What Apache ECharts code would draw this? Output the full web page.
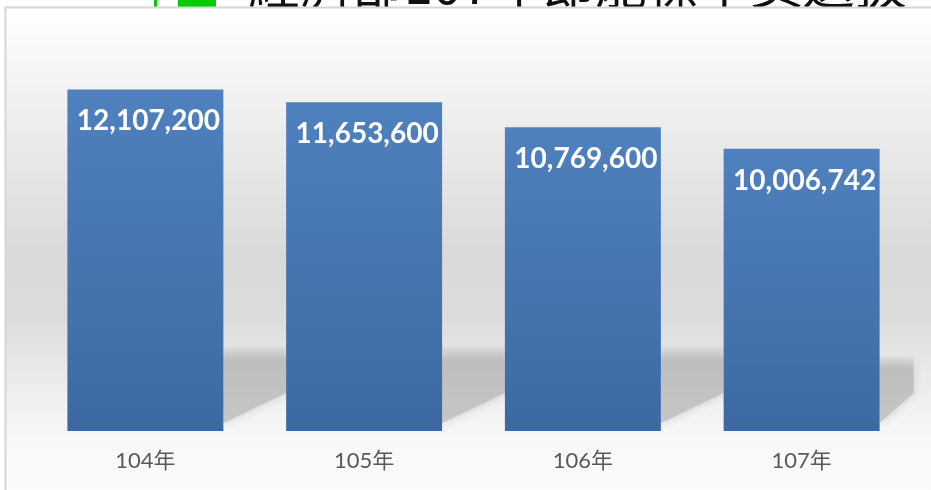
<!DOCTYPE html>
<html>
<head>
<meta charset="utf-8">
<style>
  html, body { margin: 0; padding: 0; background: #ffffff; }
  #main { width: 931px; height: 490px; }
</style>
<script src="https://cdn.jsdelivr.net/npm/echarts@6/dist/echarts.min.js"></script>
</head>
<body>
<div id="main"></div>
<script>
// data
var years = ['104年', '105年', '106年', '107年'];
var amounts = [12107200, 11653600, 10769600, 10006742];
var titleText = '經濟部107年節能標竿獎選拔';

function commas(n) {
    return String(n).replace(/\B(?=(\d{3})+(?!\d))/g, ',');
}

function vgrad(stops) {
    return { type: 'linear', x: 0, y: 0, x2: 0, y2: 1, colorStops: stops };
}

var mychart = echarts.init(document.getElementById('main'));

var option = {
    animation: false,
    grid: {
        left: 36,
        right: 20,
        top: 36,
        bottom: 59
    },
    xAxis: {
        type: 'category',
        data: years,
        axisLine: { show: false },
        axisTick: { show: false },
        axisLabel: {
            margin: 19,
            color: '#595959',
            fontSize: 22,
            fontFamily: 'Lato, "Noto Sans CJK TC", sans-serif'
        }
    },
    yAxis: {
        type: 'value',
        min: 0,
        max: 14000000,
        show: false,
        splitLine: { show: false }
    },
    series: [{
        type: 'bar',
        data: amounts,
        barWidth: '71.3%',
        z: 3,
        itemStyle: {
            color: vgrad([
                { offset: 0, color: '#4f81be' },
                { offset: 1, color: '#3c69a2' }
            ])
        },
        label: {
            show: true,
            position: 'insideTop',
            distance: 18,
            offset: [3, 0],
            color: '#ffffff',
            fontSize: 28,
            fontWeight: 'bold',
            fontFamily: 'Lato, "Open Sans", sans-serif',
            formatter: function (p) { return commas(p.value); }
        }
    }]
};
mychart.setOption(option);

// slide decoration + chart box + floor shadows (positions from the axes)
var band = mychart.convertToPixel({ xAxisIndex: 0 }, years[1]) - mychart.convertToPixel({ xAxisIndex: 0 }, years[0]);
var bw = band * 0.713;
var y0 = mychart.convertToPixel({ yAxisIndex: 0 }, 0);
var els = [
    {
        type: 'text', x: 248, y: -42, z: -3,
        style: { text: titleText, fill: '#111111', fontSize: 52, fontFamily: '"Noto Sans CJK TC", serif' }
    },
    { type: 'rect', shape: { x: 154, y: 0, width: 3, height: 8 }, z: -3, style: { fill: '#00cc00' } },
    { type: 'rect', shape: { x: 178, y: 0, width: 38, height: 7 }, z: -3, style: { fill: '#00cc00' } },
    {
        type: 'rect', z: -2,
        shape: { x: 5.5, y: 7.5, width: 940, height: 500 },
        style: {
            fill: vgrad([
                { offset: 0, color: '#ffffff' },
                { offset: 0.2, color: '#f0f0f0' },
                { offset: 0.5, color: '#d9d9d9' },
                { offset: 0.62, color: '#dcdcdc' },
                { offset: 0.8, color: '#f2f2f2' },
                { offset: 0.88, color: '#f9f9f9' },
                { offset: 1, color: '#fbfbfb' }
            ]),
            stroke: '#d6d6d6',
            lineWidth: 2
        }
    }
];
for (var i = 0; i < years.length; i++) {
    var cx = mychart.convertToPixel({ xAxisIndex: 0 }, years[i]);
    var gapL = cx + bw / 2;
    var gapR = (i < years.length - 1) ? mychart.convertToPixel({ xAxisIndex: 0 }, years[i + 1]) - bw / 2 : gapL + 34;
    var gapTop = (i < years.length - 1) ? y0 - 86 : y0 - 76;
    els.push({
        type: 'polygon', z: -1,
        shape: { points: [[gapL, gapTop], [gapR, gapTop], [gapR, y0 - 38], [gapL, y0 - 8]] },
        style: {
            fill: vgrad([
                { offset: 0, color: 'rgba(190,190,190,0)' },
                { offset: 0.22, color: 'rgba(190,190,190,1)' },
                { offset: 1, color: 'rgba(198,198,198,1)' }
            ]),
            shadowBlur: 10,
            shadowColor: 'rgba(200,200,200,0.9)'
        }
    });
}
mychart.setOption({ graphic: { elements: els } });
</script>
</body>
</html>
